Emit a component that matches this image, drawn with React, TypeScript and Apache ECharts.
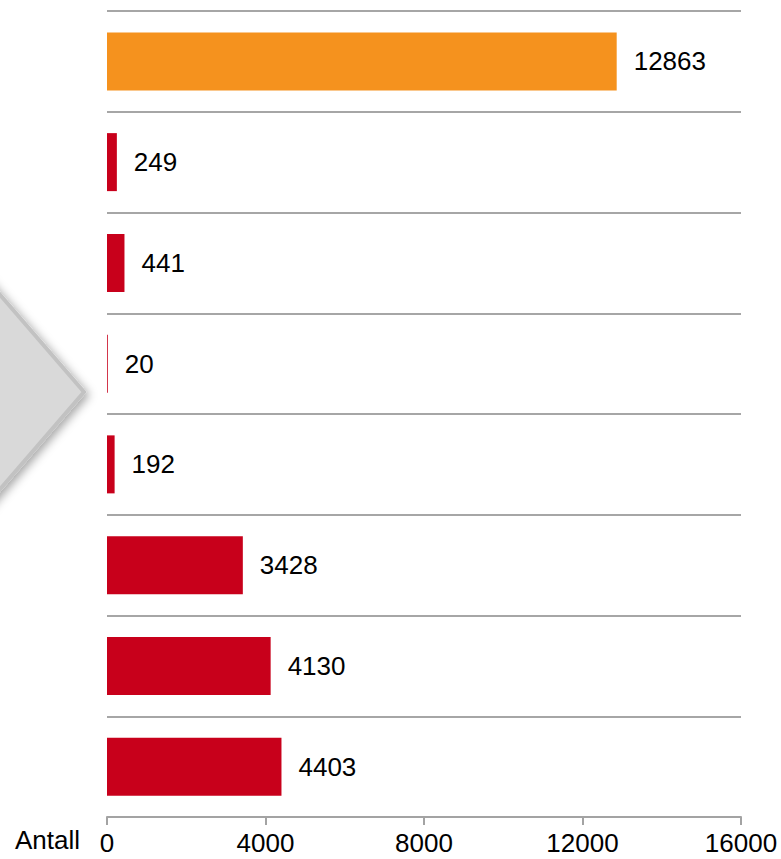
import React, { useEffect, useRef } from "react";
import * as echarts from "echarts";

const categories: string[] = ["1", "2", "3", "4", "5", "6", "7", "8"];
const values: number[] = [12863, 249, 441, 20, 192, 3428, 4130, 4403];
const xTicks: number[] = [0, 4000, 8000, 12000, 16000];
const axisName = "Antall";

const ORANGE = "#F5921E";
const RED = "#C8001B";

export default function App() {
  const ref = useRef<HTMLDivElement>(null);
  useEffect(() => {
    document.body.style.margin = "0";
    if (!ref.current) return;
    const chart = echarts.init(ref.current, undefined, { renderer: "svg" });
    const font = "Arial, 'Liberation Sans', sans-serif";
    chart.setOption({
      animation: false,
      backgroundColor: "#ffffff",
      grid: { left: 107, right: 40, top: 11, bottom: 42, containLabel: false },
      xAxis: {
        type: "value",
        min: xTicks[0],
        max: xTicks[xTicks.length - 1],
        interval: 4000,
        axisLine: { show: true, lineStyle: { color: "#a3a3a3", width: 2 } },
        axisTick: { show: true, length: 8, lineStyle: { color: "#a3a3a3", width: 2 } },
        splitLine: { show: false },
        axisLabel: {
          color: "#000",
          fontSize: 26,
          fontFamily: font,
          margin: 13,
          formatter: (v: number) => String(v),
        },
      },
      yAxis: {
        type: "category",
        data: categories,
        inverse: true,
        axisLine: { show: false },
        axisTick: { show: false },
        axisLabel: { show: false },
        splitLine: { show: true, lineStyle: { color: "#a6a6a6", width: 2 } },
      },
      graphic: [
        {
          type: "polygon",
          z: 0,
          shape: { points: [[-30, 260], [84, 392], [-30, 524]] },
          style: {
            fill: "#d9d9d9",
            stroke: "#c2c2c2",
            lineWidth: 4,
            shadowBlur: 10,
            shadowColor: "rgba(0,0,0,0.35)",
            shadowOffsetX: 3,
            shadowOffsetY: 3,
          },
        },
        {
          type: "text",
          left: 15,
          top: 827,
          style: { text: axisName, fill: "#000", font: `26px ${font}` },
        },
      ],
      series: [
        {
          type: "bar",
          data: values,
          barWidth: 58,
          itemStyle: {
            color: (p: any) => (p.dataIndex === 0 ? ORANGE : RED),
          },
          label: {
            show: true,
            position: "right",
            distance: 17,
            color: "#000",
            fontSize: 26,
            fontFamily: font,
          },
        },
      ],
    });
    return () => chart.dispose();
  }, []);
  return <div ref={ref} style={{ width: 781, height: 859 }} />;
}
